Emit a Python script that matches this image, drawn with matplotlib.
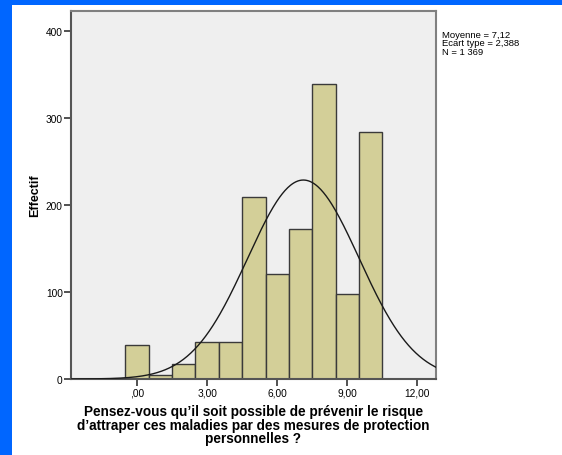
import numpy as np
import matplotlib
matplotlib.use('Agg')
import matplotlib.pyplot as plt
from matplotlib.patches import Rectangle

plt.rcParams['font.family'] = ['Liberation Sans', 'DejaVu Sans']

# histogram data (bins centred on integer scores)
scores = [0, 1, 2, 3, 4, 5, 6, 7, 8, 9, 10]
counts = [39, 5, 17, 42, 43, 209, 121, 172, 339, 98, 284]
mean_val = 7.12
sd_val = 2.388
n_total = 1369
xticks = [0, 3, 6, 9, 12]
xtick_labels = [',00', '3,00', '6,00', '9,00', '12,00']
yticks = [0, 100, 200, 300, 400]

W, H = 562, 456
fig = plt.figure(figsize=(W / 100, H / 100), dpi=100)
fig.patch.set_facecolor('white')

# blue frame on the left and top
fig.patches.append(Rectangle((0, 0), 12 / W, 1, transform=fig.transFigure,
                             facecolor='#0066ff', edgecolor='none', zorder=10))
fig.patches.append(Rectangle((0, 1 - 6 / H), 1, 6 / H, transform=fig.transFigure,
                             facecolor='#0066ff', edgecolor='none', zorder=10))

# axes area in pixels: left 71, right 436, top 12, bottom 380
ax = fig.add_axes([71 / W, 1 - 380 / H, (436 - 71) / W, (380 - 12) / H])
ax.set_facecolor('#efefef')

ax.bar(scores, counts, width=1.0, color='#d3cf98', edgecolor='#3a3a3a',
       linewidth=1.0, zorder=2)

# normal curve
xmin, xmax = -2.83, 12.8
xs = np.linspace(xmin, xmax, 400)
ys = n_total * 1.0 / (sd_val * np.sqrt(2 * np.pi)) * np.exp(-0.5 * ((xs - mean_val) / sd_val) ** 2)
ax.plot(xs, ys, color='#1a1a1a', linewidth=1.0, zorder=3)

ax.set_xlim(xmin, xmax)
ax.set_ylim(0, 423)

ax.set_xticks(xticks)
ax.set_xticklabels(xtick_labels)
ax.set_yticks(yticks)
ax.tick_params(axis='both', labelsize=7.3, length=5, width=1.2, color='#333333',
               direction='out', pad=1)
for s in ['top', 'right']:
    ax.spines[s].set_color('#808080')
    ax.spines[s].set_linewidth(1.5)
for s in ['left', 'bottom']:
    ax.spines[s].set_color('#555555')
    ax.spines[s].set_linewidth(1.5)

ax.set_ylabel('Effectif', fontsize=9, fontweight='bold', labelpad=3)
ax.set_xlabel("Pensez-vous qu\u2019il soit possible de prévenir le risque\n"
              "d\u2019attraper ces maladies par des mesures de protection\n"
              "personnelles ?", fontsize=9.8, fontweight='bold', labelpad=5,
              linespacing=0.95)

fig.text(442 / W, 1 - 31 / H, 'Moyenne = 7,12\nEcart type = 2,388\nN = 1 369',
         fontsize=6.8, va='top', ha='left', linespacing=0.92)

fig.savefig('out.png', dpi=100)
